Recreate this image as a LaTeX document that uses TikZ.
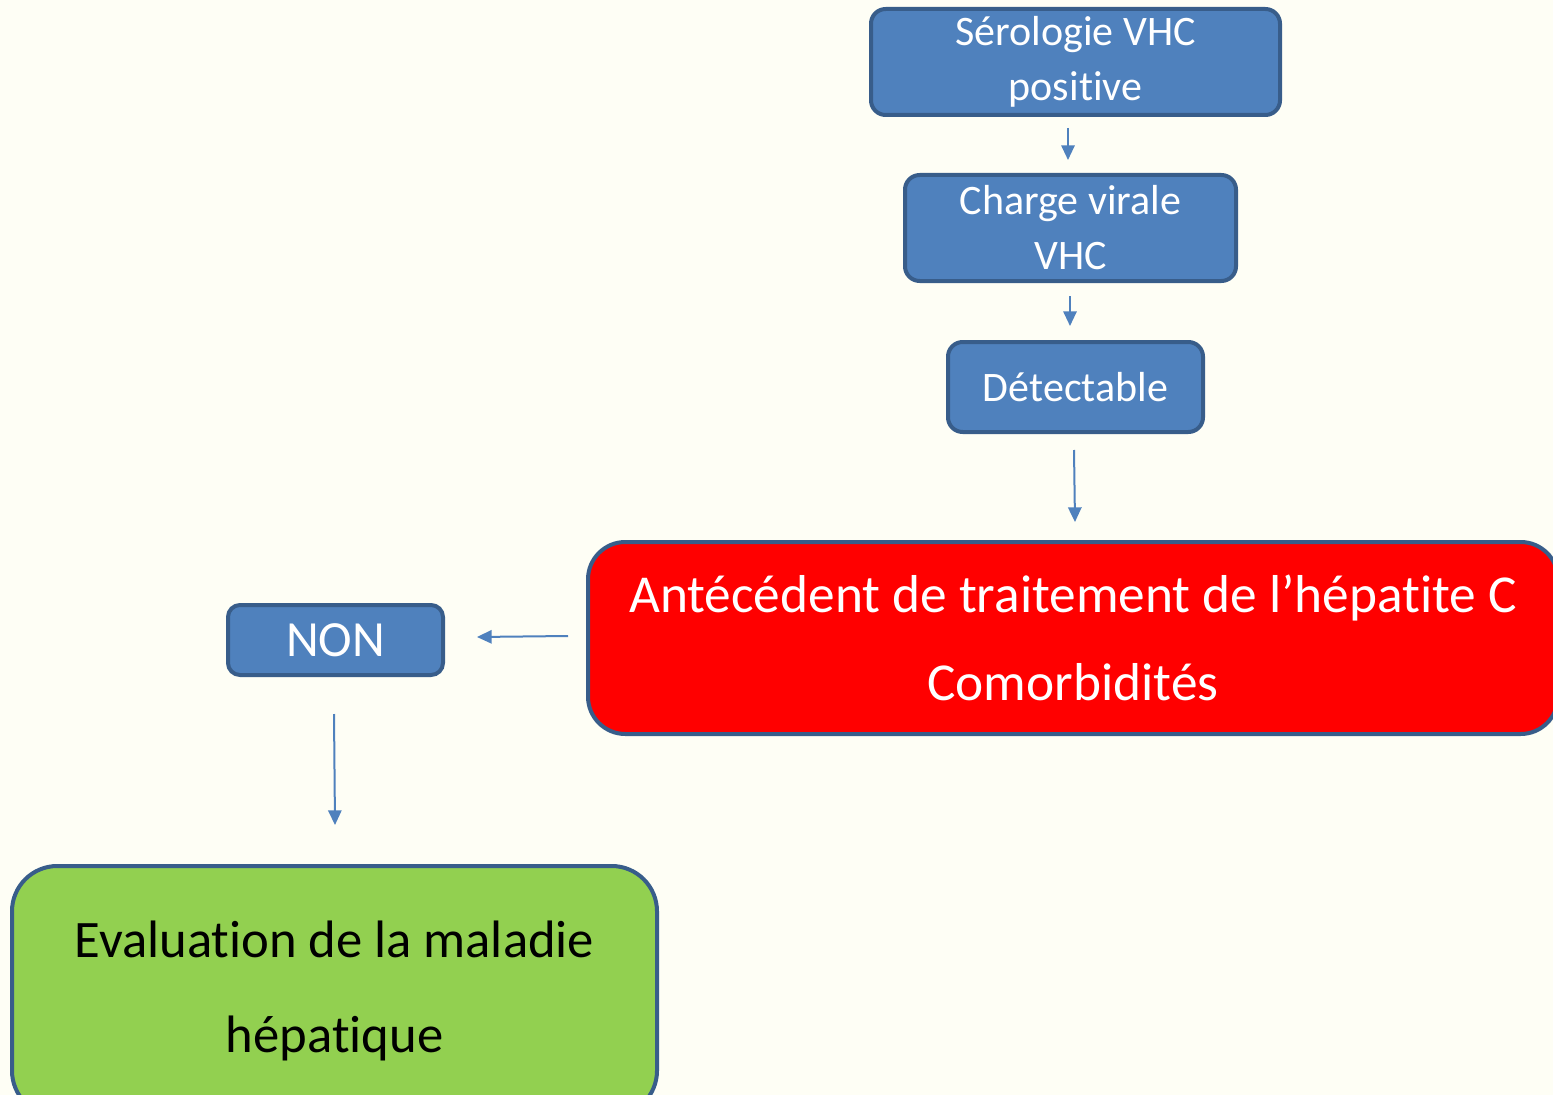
\documentclass[tikz,border=0pt]{standalone}
\usepackage{fontspec}
\setmainfont{Carlito}[RawFeature={-liga;-calt;-dlig;-clig}]
\usetikzlibrary{arrows.meta}
\definecolor{bgc}{RGB}{254,254,245}
\definecolor{bluefill}{RGB}{79,129,189}
\definecolor{blueedge}{RGB}{56,93,138}
\definecolor{redfill}{RGB}{255,0,0}
\definecolor{greenfill}{RGB}{146,208,80}
\tikzset{
  box/.style={draw=blueedge, line width=3pt, align=center, inner sep=0pt},
  bluebox/.style={box, fill=bluefill, text=white, rounded corners=11pt,
    font=\fontsize{31.5pt}{41.25pt}\selectfont},
  arr/.style={draw=bluefill, line width=1.5pt, -{Triangle[width=10pt,length=11pt]}}
}
\begin{document}
\begin{tikzpicture}[x=0.75pt, y=-0.75pt]
\useasboundingbox (0,0) rectangle (1553,1095);
\clip (0,0) rectangle (1553,1095);
\fill[bgc] (0,0) rectangle (1553,1095);

\node[bluebox, minimum width=306.75pt, minimum height=79.5pt] (sero) at (1075.5,62) {Sérologie VHC\\positive};
\node[bluebox, minimum width=248.25pt, minimum height=79.5pt] (charge) at (1070.5,228) {Charge virale\\VHC};
\node[bluebox, minimum width=191.25pt, minimum height=67.5pt] (detect) at (1075.5,387) {Détectable};
\node[box, fill=redfill, text=white, rounded corners=28pt, minimum width=727.5pt, minimum height=144pt,
  font=\fontsize{40pt}{66pt}\selectfont] (ante) at (1073,638) {Antécédent de traitement de l’hépatite C\\Comorbidités};
\node[bluebox, rounded corners=9pt, minimum width=161.25pt, minimum height=52.5pt,
  font=\fontsize{38pt}{45pt}\selectfont] (non) at (335.5,640) {NON};
\node[box, fill=greenfill, text=black, rounded corners=34pt, minimum width=483.75pt, minimum height=187.5pt,
  font=\fontsize{39.5pt}{71pt}\selectfont] (eval) at (334.5,991) {Evaluation de la maladie\\hépatique};

\coordinate (a1s) at (1068,128); \coordinate (a1e) at (1068,160);
\coordinate (a2s) at (1070,296); \coordinate (a2e) at (1070,326);
\coordinate (a3s) at (1074,450); \coordinate (a3e) at (1075,522);
\coordinate (a4s) at (568,636);  \coordinate (a4e) at (477,637);
\coordinate (a5s) at (334,714);  \coordinate (a5e) at (335,825);
\draw[arr] (a1s) -- (a1e);
\draw[arr] (a2s) -- (a2e);
\draw[arr] (a3s) -- (a3e);
\draw[arr] (a4s) -- (a4e);
\draw[arr] (a5s) -- (a5e);
\end{tikzpicture}
\end{document}
